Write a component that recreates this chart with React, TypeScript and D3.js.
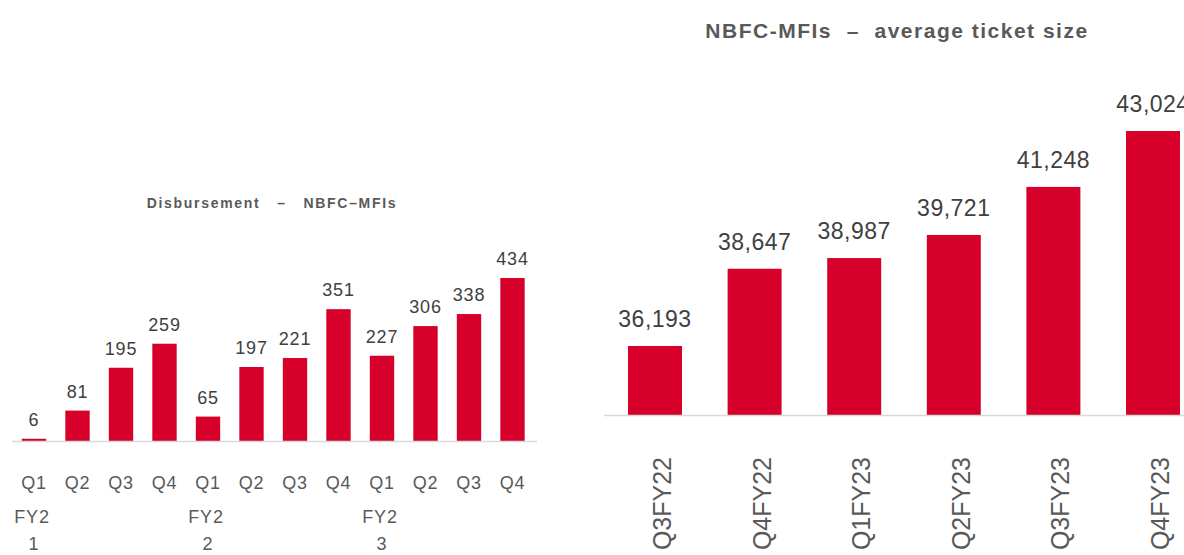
import React, { useEffect, useRef } from 'react';
import * as d3 from 'd3';

// Disbursement – NBFC-MFIs (left)
const quarters = ['Q1', 'Q2', 'Q3', 'Q4', 'Q1', 'Q2', 'Q3', 'Q4', 'Q1', 'Q2', 'Q3', 'Q4'];
const fiscalYears = ['FY21', 'FY22', 'FY23'];
const disbursement = [6, 81, 195, 259, 65, 197, 221, 351, 227, 306, 338, 434];

// NBFC-MFIs – average ticket size (right)
const ticketPeriods = ['Q3FY22', 'Q4FY22', 'Q1FY23', 'Q2FY23', 'Q3FY23', 'Q4FY23'];
const ticketSize = [36193, 38647, 38987, 39721, 41248, 43024];

const RED = '#D6002A';
const TEXT = '#595959';
const FONT = '"Liberation Sans", Arial, sans-serif';

const App = () => {
  const svgRef = useRef<SVGSVGElement | null>(null);

  useEffect(() => {
    if (!svgRef.current) return;
    const svg = d3.select(svgRef.current);
    svg.selectAll('*').remove();

    // ---------- left chart ----------
    const left = svg.append('g');
    const keys = quarters.map((q, i) => `${i}`);
    const x1 = d3.scaleBand().domain(keys).range([12.25, 534.25]).paddingInner(0.44).paddingOuter(0.22);
    const y1 = d3.scaleLinear().domain([0, 500]).range([441, 441 - 500 * 0.3756]);

    left.append('text')
      .attr('x', 272).attr('y', 208)
      .attr('text-anchor', 'middle')
      .attr('font-size', 14).attr('font-weight', 'bold')
      .attr('letter-spacing', 1.7)
      .style('white-space', 'pre')
      .attr('fill', TEXT)
      .text('Disbursement   –   NBFC–MFIs');

    left.selectAll('.bar1')
      .data(disbursement)
      .enter()
      .append('rect')
      .attr('x', (d, i) => x1(keys[i])!)
      .attr('y', d => y1(d))
      .attr('width', x1.bandwidth())
      .attr('height', d => y1(0) - y1(d))
      .attr('fill', RED);

    left.append('line')
      .attr('x1', 12).attr('x2', 537)
      .attr('y1', y1(0) + 0.5).attr('y2', y1(0) + 0.5)
      .attr('stroke', '#d9d9d9').attr('stroke-width', 1.5);

    left.selectAll('.lbl1')
      .data(disbursement)
      .enter()
      .append('text')
      .attr('x', (d, i) => x1(keys[i])! + x1.bandwidth() / 2)
      .attr('y', d => y1(d) - 13)
      .attr('text-anchor', 'middle')
      .attr('font-size', 18)
      .attr('letter-spacing', 0.8)
      .attr('fill', '#404040')
      .text(d => d);

    left.selectAll('.q')
      .data(quarters)
      .enter()
      .append('text')
      .attr('x', (d, i) => x1(keys[i])! + x1.bandwidth() / 2)
      .attr('y', 488.5)
      .attr('text-anchor', 'middle')
      .attr('font-size', 18)
      .attr('letter-spacing', 0.8)
      .attr('fill', TEXT)
      .text(d => d);

    fiscalYears.forEach((fy, g) => {
      const cx = x1(keys[g * 4])! + x1.bandwidth() / 2;
      const t = left.append('text')
        .attr('text-anchor', 'middle')
        .attr('font-size', 18)
        .attr('letter-spacing', 0.8)
        .attr('fill', TEXT);
      t.append('tspan').attr('x', cx - 2).attr('y', 523).text(fy.slice(0, 3));
      t.append('tspan').attr('x', cx).attr('y', 550).text(fy.slice(3));
    });

    // ---------- right chart ----------
    const right = svg.append('g');
    const x2 = d3.scaleBand().domain(ticketPeriods).range([605.2, 605.2 + 6 * 99.6]).paddingInner(0.458).paddingOuter(0.229);
    const y2 = d3.scaleLinear().domain([34000, 44000]).range([415, 415 - 10000 * 0.03147]);

    right.append('text')
      .attr('x', 897).attr('y', 38)
      .attr('text-anchor', 'middle')
      .attr('font-size', 21).attr('font-weight', 'bold')
      .attr('letter-spacing', 1.5)
      .style('white-space', 'pre')
      .attr('fill', TEXT)
      .text('NBFC-MFIs  –  average ticket size');

    right.selectAll('.bar2')
      .data(ticketSize)
      .enter()
      .append('rect')
      .attr('x', (d, i) => x2(ticketPeriods[i])!)
      .attr('y', d => y2(d))
      .attr('width', x2.bandwidth())
      .attr('height', d => y2(34000) - y2(d))
      .attr('fill', RED);

    right.append('line')
      .attr('x1', 604).attr('x2', 1184)
      .attr('y1', y2(34000) + 0.5).attr('y2', y2(34000) + 0.5)
      .attr('stroke', '#d9d9d9').attr('stroke-width', 1.5);

    right.selectAll('.lbl2')
      .data(ticketSize)
      .enter()
      .append('text')
      .attr('x', (d, i) => x2(ticketPeriods[i])! + x2.bandwidth() / 2)
      .attr('y', d => y2(d) - 19)
      .attr('text-anchor', 'middle')
      .attr('font-size', 23)
      .attr('letter-spacing', 0.5)
      .attr('fill', '#404040')
      .text(d => d3.format(',')(d));

    right.selectAll('.cat2')
      .data(ticketPeriods)
      .enter()
      .append('text')
      .attr('transform', d => `translate(${x2(d)! + x2.bandwidth() / 2 + 16},457) rotate(-90)`)
      .attr('text-anchor', 'end')
      .attr('font-size', 25)
      .attr('fill', TEXT)
      .text(d => d);
  }, []);

  return (
    <svg
      ref={svgRef}
      width={1184}
      height={555}
      style={{ position: 'absolute', left: 0, top: 0, fontFamily: FONT, background: '#fff' }}
    />
  );
};

export default App;
